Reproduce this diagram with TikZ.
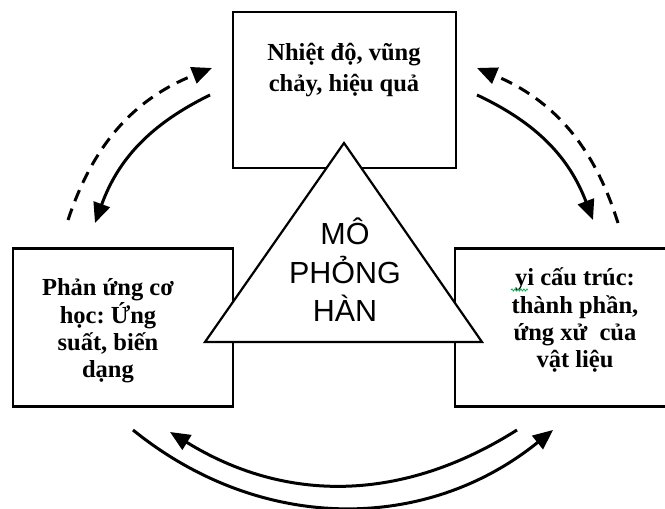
\documentclass[tikz,border=0pt]{standalone}
\usepackage{fontspec}
\setmainfont{Liberation Serif}
\setsansfont{Liberation Sans}
\usepackage{tikz}
\usetikzlibrary{arrows.meta, decorations.pathmorphing}
\definecolor{squiggle}{RGB}{0, 176, 80}
\frenchspacing

\begin{document}
\begin{tikzpicture}[x=1pt, y=1pt,
        box/.style={draw, line width=2.6pt, minimum height=158pt},
        label/.style={font=\bfseries\fontsize{24.5}{27.4}\selectfont, align=center, anchor=base},
        loop/.style={line width=3pt, -{Triangle[length=20pt, width=17pt]}},
        loopdash/.style={loop, dash pattern=on 12pt off 8pt}]

    \useasboundingbox (0, 0) rectangle (665, 509);
    \clip (0, 0) rectangle (665, 509);

    \node[box, minimum width=223pt, minimum height=156pt] (heat) at (344.5, 419) {};
    \node[box, minimum width=220pt] (mech) at (123, 181.5) {};
    \node[box, minimum width=230pt] (micro) at (570, 181.5) {};

    \draw[line width=2.2pt, fill=white, line join=miter]
    (344, 366) -- (205, 167) -- (482, 167) -- cycle;

    \node[font=\sffamily\fontsize{30.5}{38.5}\selectfont, align=center, anchor=base]
    (sim) at (345, 187) {MÔ\\PHỎNG\\HÀN};

    \node[label, font=\bfseries\fontsize{24.5}{31}\selectfont] (heattext) at (344, 417)
    {Nhiệt độ, vũng\\chảy, hiệu quả};
    \node[label] (mechtext) at (108, 131) {Phản ứng cơ\\học: Ứng\\suất, biến\\dạng};
    \node[label] (microtext) at (575, 141) {yi cấu trúc:\\thành phần,\\ứng xử\ \ của\\vật liệu};

    \draw[squiggle, line width=0.8pt, decorate,
        decoration={snake, amplitude=1pt, segment length=3pt}]
    (511, 219) -- (528, 219);

    \coordinate (tlA) at (68, 289);
    \coordinate (tlB) at (212, 441);
    \coordinate (tlC) at (210, 414);
    \coordinate (tlD) at (95, 286);
    \coordinate (trA) at (618, 286);
    \coordinate (trB) at (477, 441);
    \coordinate (trC) at (477, 414);
    \coordinate (trD) at (593, 289);
    \coordinate (btA) at (133, 79);
    \coordinate (btB) at (553, 79);
    \coordinate (btC) at (517, 79);
    \coordinate (btD) at (170, 77);

    \draw[loopdash] (tlA) to[bend left=25] (tlB);
    \draw[loop] (tlC) to[bend right=22] (tlD);
    \draw[loopdash] (trA) to[bend right=25] (trB);
    \draw[loop] (trC) to[bend left=22] (trD);
    \draw[loop] (btA) to[bend right=39] (btB);
    \draw[loop] (btC) to[bend left=32] (btD);

\end{tikzpicture}
\end{document}
